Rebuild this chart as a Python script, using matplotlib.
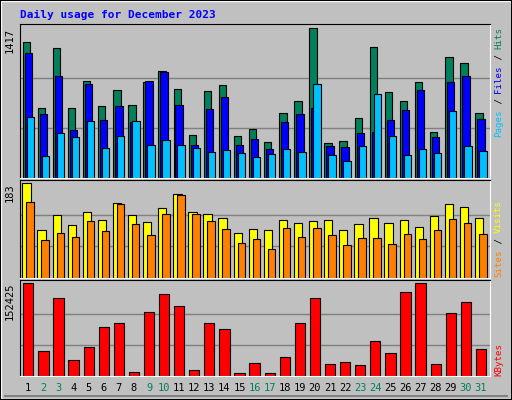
import numpy as np
import matplotlib.pyplot as plt
from matplotlib.patches import Rectangle

days = np.arange(1, 32)
weekend = [2, 3, 9, 10, 16, 17, 23, 24, 30, 31]

hits = [1289, 667, 1232, 667, 917, 686, 830, 696, 907, 1013, 840, 410, 820, 878, 401, 468, 343, 619, 734, 1417,
        333, 353, 571, 1244, 815, 734, 907, 436, 1148, 1090, 619]
files = [1186, 606, 965, 455, 894, 551, 686, 532, 923, 1000, 696, 311, 657, 772, 311, 369, 272, 532, 609, 667,
         301, 292, 426, 436, 551, 648, 830, 388, 907, 965, 561]
pages = [580, 205, 426, 388, 542, 282, 398, 542, 311, 359, 311, 282, 244, 263, 234, 196, 224, 272, 244, 888,
         215, 157, 301, 792, 398, 215, 272, 234, 638, 301, 253]
visits = [183, 93, 121, 101, 127, 111, 145, 121, 107, 135, 161, 127, 123, 115, 86, 95, 93, 111, 105, 109,
          111, 93, 103, 115, 105, 111, 99, 119, 143, 137, 115]
sites = [147, 73, 87, 79, 109, 91, 143, 103, 83, 123, 159, 123, 109, 95, 68, 75, 56, 97, 79, 97,
         83, 64, 77, 77, 65, 85, 75, 93, 113, 105, 85]
kbytes = [152425, 40600, 127400, 25600, 47300, 80700, 87300, 7200, 104000, 134000, 114000, 10600, 87300, 77300,
          5600, 20600, 5600, 30600, 87300, 127400, 19000, 22300, 17200, 57300, 37300, 137400, 152425, 19000,
          102300, 120600, 44500]

BG = '#C0C0C0'
fig = plt.figure(figsize=(5.12, 4.0), dpi=100, facecolor=BG)
# outer bevel frame
fig.patches.append(Rectangle((1/512, 1/400), 510/512, 398/400, transform=fig.transFigure,
                             fill=False, edgecolor='white', lw=1))
fig.patches.append(Rectangle((0, 0), 1, 1, transform=fig.transFigure, fill=False, edgecolor='black', lw=1.5))
fig.patches.append(Rectangle((4/512, 3/400), 504/512, 2/400, transform=fig.transFigure,
                             color='#808080', lw=0))
mono = 'DejaVu Sans Mono'
fig.text(20/512, 1-15/400, 'Daily usage for December 2023', color='#0000FF', fontsize=8,
         fontweight='bold', family=mono, va='center')

L, W = 20/512, 470/512
ax1 = fig.add_axes([L, 1-178/400, W, 154/400])
ax2 = fig.add_axes([L, 1-278/400, W, 98/400])
ax3 = fig.add_axes([L, 1-376/400, W, 96/400])

ek = dict(edgecolor='black', linewidth=0.8)
ax1.bar(days - 0.13, hits, 0.49, color='#00805C', **ek)
ax1.bar(days, files, 0.49, color='#0000FF', **ek)
ax1.bar(days + 0.13, pages, 0.49, color='#00C0FF', **ek)
ax2.bar(days - 0.12, visits, 0.55, color='#FFFF00', **ek)
ax2.bar(days + 0.12, sites, 0.5, color='#FF8000', **ek)
ax3.bar(days, kbytes, 0.68, color='#FF0000', **ek)

for ax, top, lab in [(ax1, max(hits), '1417'), (ax2, max(visits), '183'), (ax3, max(kbytes), '152425')]:
    ax.set_facecolor(BG)
    ax.set_xlim(0.45, 31.6)
    ax.set_ylim(0, top * 1.03)
    for f in (1/3, 2/3):
        ax.axhline(top * f, color='#808080', lw=1, zorder=0)
    ax.set_xticks([])
    ax.set_yticks([])
    for s in ax.spines.values():
        s.set_color('white')
    ax.spines['top'].set_color('black')
    ax.spines['left'].set_color('black')
    ax.text(-0.012, top, lab, transform=ax.get_yaxis_transform(), rotation=90, ha='right', va='top',
            fontsize=7.5, family=mono)

FS = 6.6
CH = FS * 100 / 72 * 0.602  # px per character

def right_label(bottom_px, parts):
    y = bottom_px
    for txt, col in parts:
        fig.text(494/512, 1 - y/400, txt, rotation=90, ha='left', va='bottom',
                 fontsize=FS, family=mono, color=col)
        y -= len(txt) * CH

right_label(137, [('Pages', '#00C0FF'), (' / ', '#000000'), ('Files', '#0000FF'), (' / ', '#000000'), ('Hits', '#00805C')])
right_label(277, [('Sites', '#FF8000'), (' / ', '#000000'), ('Visits', '#FFFF00')])
right_label(376, [('KBytes', '#FF0000')])

for d in days:
    fig.text(L + W * (d - 0.45) / 31.15, 1-388/400, str(d), ha='center', va='center', fontsize=7.5,
             family=mono, color='#00805C' if d in weekend else 'black')

fig.savefig('out.png', dpi=100, facecolor=BG)
